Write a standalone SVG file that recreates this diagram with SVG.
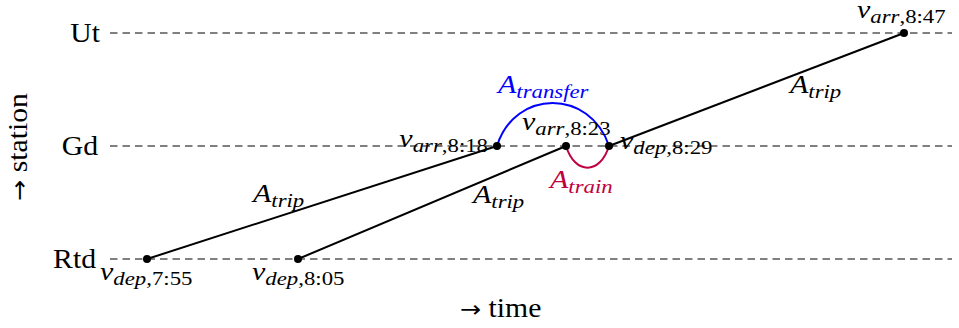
<svg xmlns="http://www.w3.org/2000/svg" width="959" height="328" viewBox="0 0 959 328">
<style>
.grid{stroke:#808080;stroke-width:2;stroke-dasharray:7.5 5;fill:none}
.trip{stroke:#000;stroke-width:2;fill:none}
.tx{font-family:"Liberation Serif","Times New Roman",serif;font-size:25px;fill:#000}
.ax{font-size:27px}
.it{font-style:italic}
.sub{font-size:19px}
.arw{font-family:"DejaVu Sans",sans-serif;font-size:23px}
.dot{fill:#000}
</style>
<rect width="959" height="328" fill="#fff"/>
<g id="axes">
  <line class="grid" x1="110" y1="33" x2="952" y2="33"/>
  <line class="grid" x1="110" y1="146" x2="952" y2="146"/>
  <line class="grid" x1="110" y1="259" x2="952" y2="259"/>
  <text class="tx ax" transform="translate(100,42) scale(1.1,1)" text-anchor="end">Ut</text>
  <text class="tx ax" transform="translate(98,155) scale(1.1,1)" text-anchor="end">Gd</text>
  <text class="tx ax" transform="translate(96,268) scale(1.1,1)" text-anchor="end">Rtd</text>
  <text class="tx ax" transform="translate(27,147) rotate(-90) scale(1.1,1)" text-anchor="middle"><tspan class="arw">→</tspan> station</text>
  <text class="tx ax" transform="translate(460,317) scale(1.1,1)"><tspan class="arw">→</tspan> time</text>
</g>
<g id="connectors">
  <line class="trip" x1="147" y1="259" x2="497" y2="146"/>
  <line class="trip" x1="298" y1="259" x2="566" y2="146"/>
  <line class="trip" x1="609" y1="146" x2="904" y2="33"/>
  <path d="M497,146 C515,88.7 590,88.7 609,146" fill="none" stroke="#0000ff" stroke-width="2"/>
  <path d="M566,146 C575,175 600,175 609,146" fill="none" stroke="#bf0040" stroke-width="2"/>
  <text class="tx it" transform="translate(253,202) scale(1.2,1)">A<tspan class="sub" dy="5">trip</tspan></text>
  <text class="tx it" transform="translate(473,203) scale(1.2,1)">A<tspan class="sub" dy="5">trip</tspan></text>
  <text class="tx it" transform="translate(790,93) scale(1.2,1)">A<tspan class="sub" dy="5">trip</tspan></text>
  <text class="tx it" transform="translate(498,93) scale(1.2,1)" style="fill:#0000ff">A<tspan class="sub" dy="5">transfer</tspan></text>
  <text class="tx it" transform="translate(550,188) scale(1.2,1)" style="fill:#bf0040">A<tspan class="sub" dy="5">train</tspan></text>
</g>
<g id="v_dep_755">
  <circle class="dot" cx="147" cy="259" r="4"/>
  <text class="tx" transform="translate(100,280) scale(1.2,1)"><tspan class="it">v</tspan><tspan class="sub it" dy="5">dep</tspan><tspan class="sub">,7:55</tspan></text>
</g>
<g id="v_dep_805">
  <circle class="dot" cx="298" cy="259" r="4"/>
  <text class="tx" transform="translate(252,280) scale(1.2,1)"><tspan class="it">v</tspan><tspan class="sub it" dy="5">dep</tspan><tspan class="sub">,8:05</tspan></text>
</g>
<g id="v_arr_818">
  <circle class="dot" cx="497" cy="146" r="4"/>
  <text class="tx" transform="translate(488,147) scale(1.2,1)" text-anchor="end"><tspan class="it">v</tspan><tspan class="sub it" dy="5">arr</tspan><tspan class="sub">,8:18</tspan></text>
</g>
<g id="v_arr_823">
  <circle class="dot" cx="566" cy="146" r="4"/>
  <text class="tx" transform="translate(522,130) scale(1.2,1)"><tspan class="it">v</tspan><tspan class="sub it" dy="5">arr</tspan><tspan class="sub">,8:23</tspan></text>
</g>
<g id="v_dep_829">
  <circle class="dot" cx="609" cy="146" r="4"/>
  <text class="tx" transform="translate(620,149) scale(1.2,1)"><tspan class="it">v</tspan><tspan class="sub it" dy="5">dep</tspan><tspan class="sub">,8:29</tspan></text>
</g>
<g id="v_arr_847">
  <circle class="dot" cx="904" cy="33" r="4"/>
  <text class="tx" transform="translate(857,18) scale(1.2,1)"><tspan class="it">v</tspan><tspan class="sub it" dy="5">arr</tspan><tspan class="sub">,8:47</tspan></text>
</g>
</svg>
